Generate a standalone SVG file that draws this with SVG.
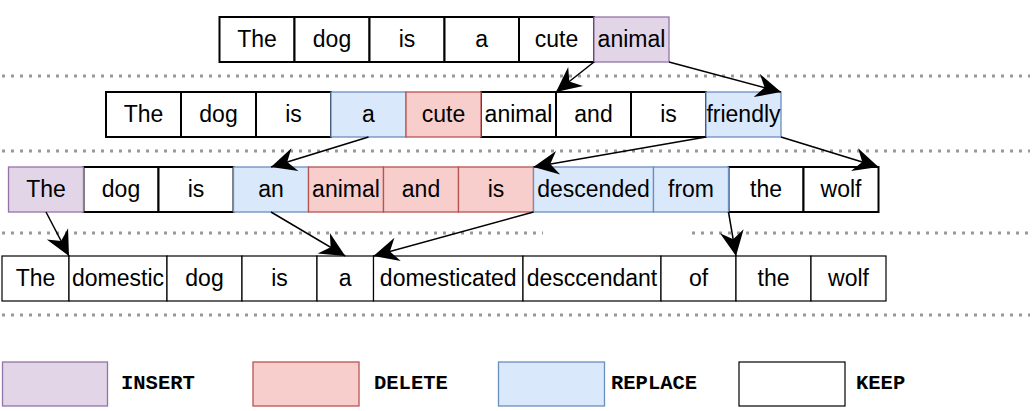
<svg xmlns="http://www.w3.org/2000/svg" width="1032" height="411" viewBox="0 0 1032 411">
<style>
.k{fill:#ffffff;stroke:#000000;stroke-width:2}
.k1{fill:#ffffff;stroke:#000000;stroke-width:1.2}
.ins{fill:#e1d5e7;stroke:#9673a6;stroke-width:1.3}
.del{fill:#f8cecc;stroke:#b85450;stroke-width:1.3}
.rep{fill:#dae8fc;stroke:#6c8ebf;stroke-width:1.3}
.t{font-family:"Liberation Sans",Arial,sans-serif;font-size:23px;fill:#000000;text-anchor:middle}
.lg{font-family:"Liberation Mono","Courier New",monospace;font-size:20.5px;font-weight:bold;fill:#000000}
.sep{stroke:#999999;stroke-width:3;stroke-dasharray:3 6;fill:none}
.e{stroke:#000000;stroke-width:1.5;fill:none;marker-end:url(#ah)}
</style>
<defs>
<marker id="ah" markerUnits="userSpaceOnUse" markerWidth="27" markerHeight="26" viewBox="-26 -13 27 26" refX="0" refY="0" orient="auto">
<path d="M0,0 L-25,-12 L-17,0 L-25,12 Z" fill="#000000"/>
</marker>
</defs>
<rect width="1032" height="411" fill="#ffffff"/>
<g id="separators">
<line class="sep" x1="2" y1="76" x2="1030" y2="76"/>
<line class="sep" x1="2" y1="151" x2="1030" y2="151"/>
<line class="sep" x1="2" y1="233" x2="543" y2="233"/>
<line class="sep" x1="692" y1="233" x2="1030" y2="233"/>
<line class="sep" x1="2" y1="315" x2="1030" y2="315"/>
</g>
<!-- row 1 -->
<g id="r1-the"><rect class="k" x="219.5" y="17" width="75" height="45"/><text class="t" x="257" y="47">The</text></g>
<g id="r1-dog"><rect class="k" x="294.5" y="17" width="75" height="45"/><text class="t" x="332" y="47">dog</text></g>
<g id="r1-is"><rect class="k" x="369.5" y="17" width="75" height="45"/><text class="t" x="407" y="47">is</text></g>
<g id="r1-a"><rect class="k" x="444.5" y="17" width="74.5" height="45"/><text class="t" x="481.75" y="47">a</text></g>
<g id="r1-cute"><rect class="k" x="519" y="17" width="75" height="45"/><text class="t" x="556.5" y="47">cute</text></g>
<g id="r1-animal"><rect class="ins" x="594" y="17" width="75" height="45"/><text class="t" x="631.5" y="47">animal</text></g>
<!-- row 2 -->
<g id="r2-the"><rect class="k" x="106" y="92" width="75" height="45"/><text class="t" x="143.5" y="122">The</text></g>
<g id="r2-dog"><rect class="k" x="181" y="92" width="75" height="45"/><text class="t" x="218.5" y="122">dog</text></g>
<g id="r2-is"><rect class="k" x="256" y="92" width="75" height="45"/><text class="t" x="293.5" y="122">is</text></g>
<g id="r2-animal"><rect class="k" x="481" y="92" width="75" height="45"/><text class="t" x="518.5" y="122">animal</text></g>
<g id="r2-and"><rect class="k" x="556" y="92" width="75" height="45"/><text class="t" x="593.5" y="122">and</text></g>
<g id="r2-is2"><rect class="k" x="631" y="92" width="75" height="45"/><text class="t" x="668.5" y="122">is</text></g>
<g id="r2-a"><rect class="rep" x="331" y="92" width="75" height="45"/><text class="t" x="368.5" y="122">a</text></g>
<g id="r2-cute"><rect class="del" x="406" y="92" width="75" height="45"/><text class="t" x="443.5" y="122">cute</text></g>
<g id="r2-friendly"><rect class="rep" x="706" y="92" width="75" height="45"/><text class="t" x="743.5" y="122">friendly</text></g>
<!-- row 3 -->
<g id="r3-dog"><rect class="k" x="83.5" y="167" width="75" height="45"/><text class="t" x="121" y="197">dog</text></g>
<g id="r3-is"><rect class="k" x="158.5" y="167" width="75" height="45"/><text class="t" x="196" y="197">is</text></g>
<g id="r3-the2"><rect class="k" x="728.5" y="167" width="75" height="45"/><text class="t" x="766" y="197">the</text></g>
<g id="r3-wolf"><rect class="k" x="803.5" y="167" width="75" height="45"/><text class="t" x="841" y="197">wolf</text></g>
<g id="r3-the"><rect class="ins" x="8.5" y="167" width="75" height="45"/><text class="t" x="46" y="197">The</text></g>
<g id="r3-an"><rect class="rep" x="233.5" y="167" width="75" height="45"/><text class="t" x="271" y="197">an</text></g>
<g id="r3-animal"><rect class="del" x="308.5" y="167" width="75" height="45"/><text class="t" x="346" y="197">animal</text></g>
<g id="r3-and"><rect class="del" x="383.5" y="167" width="75" height="45"/><text class="t" x="421" y="197">and</text></g>
<g id="r3-is2"><rect class="del" x="458.5" y="167" width="75" height="45"/><text class="t" x="496" y="197">is</text></g>
<g id="r3-descended"><rect class="rep" x="533.5" y="167" width="120" height="45"/><text class="t" x="593.5" y="197">descended</text></g>
<g id="r3-from"><rect class="rep" x="653.5" y="167" width="75" height="45"/><text class="t" x="691" y="197">from</text></g>
<!-- row 4 -->
<g id="r4-the"><rect class="k1" x="2" y="256" width="67" height="45"/><text class="t" x="35.5" y="286">The</text></g>
<g id="r4-domestic"><rect class="k1" x="69" y="256" width="98" height="45"/><text class="t" x="118" y="286">domestic</text></g>
<g id="r4-dog"><rect class="k1" x="167" y="256" width="75" height="45"/><text class="t" x="204.5" y="286">dog</text></g>
<g id="r4-is"><rect class="k1" x="242" y="256" width="75" height="45"/><text class="t" x="279.5" y="286">is</text></g>
<g id="r4-a"><rect class="k1" x="317" y="256" width="56.5" height="45"/><text class="t" x="345.25" y="286">a</text></g>
<g id="r4-domesticated"><rect class="k1" x="373.5" y="256" width="149.5" height="45"/><text class="t" x="448.25" y="286">domesticated</text></g>
<g id="r4-desccendant"><rect class="k1" x="523" y="256" width="138" height="45"/><text class="t" x="592" y="286">desccendant</text></g>
<g id="r4-of"><rect class="k1" x="661" y="256" width="75" height="45"/><text class="t" x="698.5" y="286">of</text></g>
<g id="r4-the2"><rect class="k1" x="736" y="256" width="75" height="45"/><text class="t" x="773.5" y="286">the</text></g>
<g id="r4-wolf"><rect class="k1" x="811" y="256" width="75" height="45"/><text class="t" x="848.5" y="286">wolf</text></g>
<!-- connectors -->
<g id="connectors">
<line class="e" x1="594" y1="62" x2="556" y2="92"/>
<line class="e" x1="669" y1="62" x2="781" y2="92"/>
<line class="e" x1="368.5" y1="137" x2="271" y2="167"/>
<line class="e" x1="706" y1="137" x2="533.5" y2="167"/>
<line class="e" x1="781" y1="137" x2="878.5" y2="167"/>
<line class="e" x1="46" y1="212" x2="69" y2="256"/>
<line class="e" x1="271" y1="212" x2="345.25" y2="256"/>
<line class="e" x1="533.5" y1="212" x2="373.5" y2="256"/>
<line class="e" x1="728.5" y1="212" x2="736" y2="256"/>
</g>
<!-- legend -->
<g id="legend-insert"><rect class="ins" x="2.5" y="362" width="105" height="44"/><text class="lg" x="121" y="389">INSERT</text></g>
<g id="legend-delete"><rect class="del" x="253" y="362" width="106" height="44"/><text class="lg" x="374" y="389">DELETE</text></g>
<g id="legend-replace"><rect class="rep" x="498.5" y="362" width="106" height="44"/><text class="lg" x="611" y="389">REPLACE</text></g>
<g id="legend-keep"><rect class="k1" x="739" y="362" width="106" height="44"/><text class="lg" x="856" y="389">KEEP</text></g>
</svg>
